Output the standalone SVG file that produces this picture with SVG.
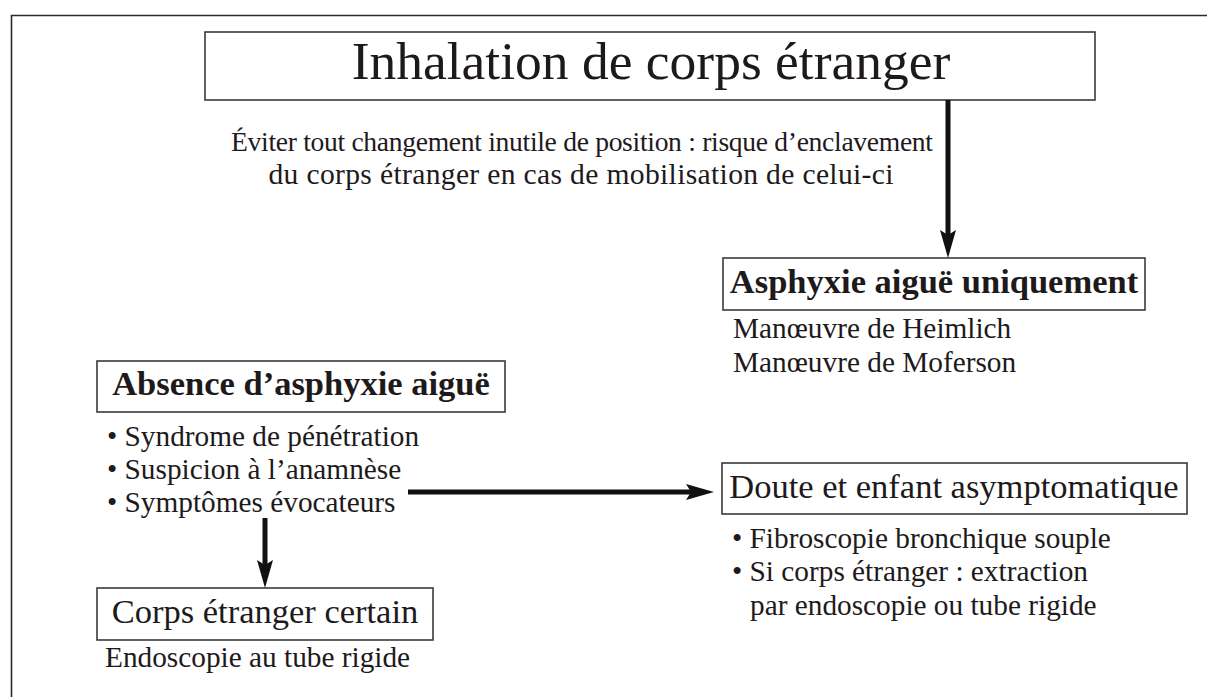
<svg xmlns="http://www.w3.org/2000/svg" width="1207" height="697" viewBox="0 0 1207 697">
  <style>
    text { font-family: "Liberation Serif", "Times New Roman", serif; fill: #1e1a1b; }
    .title { font-size: 53.5px; }
    .head { font-size: 34.5px; }
    .bold { font-weight: bold; }
    .body { font-size: 29.3px; }
    .box { fill: #ffffff; stroke: #3a3a3a; stroke-width: 1.6; }
    .frame { fill: none; stroke: #2a2a2a; stroke-width: 1.6; }
    .wire { stroke: #111111; stroke-width: 5; fill: none; }
    .head-arrow { fill: #111111; }
  </style>

  <rect width="1207" height="697" fill="#ffffff"/>

  <!-- open frame: top and left edges only -->
  <path class="frame" d="M1207,15.5 H11.5 V697"/>

  <g id="node-title">
    <rect class="box" x="205" y="32" width="890" height="68"/>
    <text class="title" x="651" y="79" text-anchor="middle">Inhalation de corps étranger</text>
  </g>

  <g id="note-position">
    <text x="582" y="151" text-anchor="middle" font-size="27.6" textLength="702" lengthAdjust="spacing">Éviter tout changement inutile de position : risque d’enclavement</text>
    <text x="581" y="184" text-anchor="middle" font-size="29.6" textLength="625" lengthAdjust="spacing">du corps étranger en cas de mobilisation de celui-ci</text>
  </g>

  <g id="node-asphyxie">
    <rect class="box" x="723" y="258" width="422" height="52"/>
    <text class="head bold" x="934" y="293" text-anchor="middle">Asphyxie aiguë uniquement</text>
    <text class="body" x="733" y="338">Manœuvre de Heimlich</text>
    <text class="body" x="733" y="372">Manœuvre de Moferson</text>
  </g>

  <g id="node-absence">
    <rect class="box" x="97" y="361" width="408" height="51"/>
    <text class="head bold" x="301" y="395" text-anchor="middle">Absence d’asphyxie aiguë</text>
    <text class="body" x="107" y="446">• Syndrome de pénétration</text>
    <text class="body" x="107" y="479">• Suspicion à l’anamnèse</text>
    <text class="body" x="107" y="512">• Symptômes évocateurs</text>
  </g>

  <g id="node-doute">
    <rect class="box" x="722" y="463" width="465" height="51"/>
    <text class="head" x="954" y="498" text-anchor="middle">Doute et enfant asymptomatique</text>
    <text class="body" x="732" y="548">• Fibroscopie bronchique souple</text>
    <text class="body" x="732" y="581">• Si corps étranger : extraction</text>
    <text class="body" x="750" y="615">par endoscopie ou tube rigide</text>
  </g>

  <g id="node-certain">
    <rect class="box" x="97" y="588" width="336" height="52"/>
    <text class="head" x="265" y="623" text-anchor="middle">Corps étranger certain</text>
    <text class="body" x="105" y="667">Endoscopie au tube rigide</text>
  </g>

  <g id="connectors">
    <!-- title to acute asphyxia -->
    <line class="wire" x1="948" y1="100" x2="948" y2="236"/>
    <path class="head-arrow" d="M948,258 L940,230 L948,235 L956,230 Z"/>
    <!-- symptoms to doubt -->
    <line class="wire" x1="408" y1="492" x2="692" y2="492"/>
    <path class="head-arrow" d="M714,492 L686,484 L691,492 L686,500 Z"/>
    <!-- symptoms to certain -->
    <line class="wire" x1="265" y1="518" x2="265" y2="566"/>
    <path class="head-arrow" d="M265,588 L257,560 L265,565 L273,560 Z"/>
  </g>
</svg>
